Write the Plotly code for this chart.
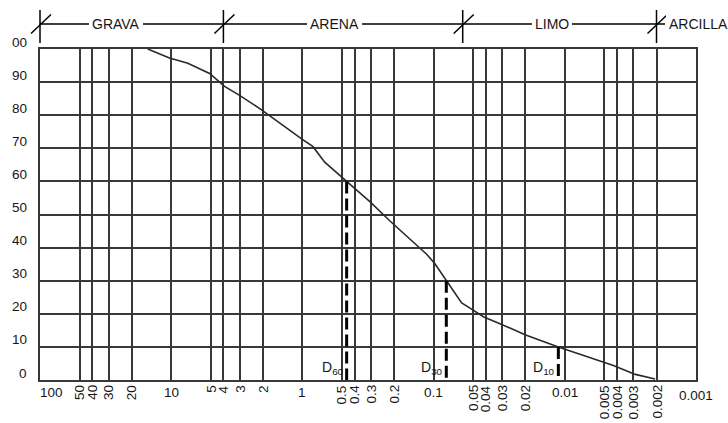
import math
import plotly.graph_objects as go

# Grain-size distribution: particle size (mm) vs. percent passing
size_mm = [15.1, 10.3, 7.47, 5.10, 3.92, 3.01, 2.06, 1.41, 1.02, 0.83, 0.676,
           0.46, 0.306, 0.216, 0.161, 0.113, 0.0977, 0.08, 0.0709, 0.0611,
           0.0499, 0.0418, 0.0312, 0.0201, 0.0112, 0.00679, 0.00426, 0.0029,
           0.00205]
passing = [100, 97.3, 95.7, 92.6, 88.7, 86.0, 81.7, 76.9, 72.9, 70.5, 65.8,
           60, 53.9, 48.1, 43.5, 38.0, 35.1, 30, 26.7, 23.3,
           21.1, 19.1, 17.0, 13.7, 10, 7.1, 4.4, 1.7, 0.3]

# Characteristic diameters D60, D30, D10
d_names = ["60", "30", "10"]
d_sizes = [0.46, 0.08, 0.0112]
d_percent = [60, 30, 10]

# Sieve-size grid and labels (mm)
x_values = [100, 50, 40, 30, 20, 10, 5, 4, 3, 2, 1, 0.5, 0.4, 0.3, 0.2, 0.1,
            0.05, 0.04, 0.03, 0.02, 0.01, 0.005, 0.004, 0.003, 0.002, 0.001]
x_labels = ["100", "50", "40", "30", "20", "10", "5", "4", "3", "2", "1",
            "0.5", "0.4", "0.3", "0.2", "0.1", "0.05", "0.04", "0.03", "0.02",
            "0.01", "0.005", "0.004", "0.003", "0.002", "0.001"]

y_values = [0, 10, 20, 30, 40, 50, 60, 70, 80, 90, 100]
y_labels = ["0", "10", "20", "30", "40", "50", "60", "70", "80", "90", "00"]

# Soil classes and their size limits (mm)
zone_names = ["GRAVA", "ARENA", "LIMO", "ARCILLA"]
zone_limits = [100, 4, 0.06, 0.002]

W, H = 728, 423
ML, MR, MT, MB = 40, 32, 49, 43
PW, PH = W - ML - MR, H - MT - MB
FONT = "Liberation Sans, Arial, sans-serif"
INK = "#161616"
GRID = "#383838"
FS = 13.5


def px_x(px):
    return (px - ML) / PW


def px_y(py):
    return (H - MB - py) / PH


def frac_of(d):
    return (2 - math.log10(d)) / 5


fig = go.Figure()

fig.add_trace(go.Scatter(
    x=size_mm, y=passing, mode="lines",
    line=dict(color="#2a2a2a", width=1.6), hoverinfo="skip",
))

for d, p in zip(d_sizes, d_percent):
    fig.add_trace(go.Scatter(
        x=[d, d], y=[p, 0], mode="lines",
        line=dict(color="black", width=3, dash="12px,5px"), hoverinfo="skip",
    ))

annotations = []
shapes = []

# x tick labels: decades horizontal, intermediate sizes rotated
for v, t in zip(x_values, x_labels):
    decade = abs(math.log10(v) - round(math.log10(v))) < 1e-9
    if decade:
        anchor = "left" if v == x_values[0] else "center"
        annotations.append(dict(
            x=math.log10(v), xref="x", y=0, yref="paper", text=t,
            xanchor=anchor, yanchor="middle", yshift=-12 if v != 0.001 else -15,
            showarrow=False, font=dict(family=FONT, size=FS, color=INK),
            borderpad=0, borderwidth=0,
        ))
    else:
        annotations.append(dict(
            x=math.log10(v), xref="x", y=0, yref="paper", text=t,
            textangle=-90, xanchor="center", yanchor="top", yshift=-5,
            showarrow=False, font=dict(family=FONT, size=FS, color=INK),
            borderpad=0, borderwidth=0,
        ))

# y tick labels, set just above each grid line
for v, t in zip(y_values, y_labels):
    annotations.append(dict(
        x=0, xref="paper", y=v, yref="y", text=t,
        xanchor="right", yanchor="middle", xshift=-13, yshift=7,
        showarrow=False, font=dict(family=FONT, size=FS, color=INK),
        borderpad=0, borderwidth=0,
    ))

# D60 / D30 / D10 labels
for name, d in zip(d_names, d_sizes):
    annotations.append(dict(
        x=math.log10(d), xref="x", y=px_y(368), yref="paper",
        text="D<sub>" + name + "</sub>", xanchor="right", yanchor="middle",
        xshift=-3, showarrow=False,
        font=dict(family=FONT, size=14, color=INK),
        borderpad=0, borderwidth=0,
    ))

# Classification band above the chart
band_y = px_y(24)
shapes.append(dict(type="line", xref="paper", yref="paper",
                   x0=0, x1=px_x(665), y0=band_y, y1=band_y,
                   line=dict(color="black", width=1.5)))
for lim in zone_limits:
    fx = frac_of(lim)
    shapes.append(dict(type="line", xref="paper", yref="paper",
                       x0=fx, x1=fx, y0=px_y(10), y1=px_y(43),
                       line=dict(color="black", width=1.5)))
    shapes.append(dict(type="line", xref="paper", yref="paper",
                       x0=fx - 9 / PW, x1=fx + 11 / PW,
                       y0=px_y(33.5), y1=px_y(14.5),
                       line=dict(color="black", width=1.5)))

band_label_px = [115.8, 334.5, 551.5, 665.5]
for i, (name, lx) in enumerate(zip(zone_names, band_label_px)):
    last = i == len(zone_names) - 1
    annotations.append(dict(
        x=px_x(lx), xref="paper", y=band_y, yref="paper", text=name,
        xanchor="left" if last else "center", yanchor="middle",
        showarrow=False, bgcolor="white", borderpad=3, borderwidth=0,
        font=dict(family=FONT, size=14, color=INK),
    ))

fig.update_layout(
    width=W, height=H,
    margin=dict(l=ML, r=MR, t=MT, b=MB, pad=0),
    paper_bgcolor="white", plot_bgcolor="white",
    showlegend=False,
    annotations=annotations, shapes=shapes,
    xaxis=dict(
        type="log", range=[2, -3], tickvals=x_values, showticklabels=False,
        ticks="", showgrid=True, gridcolor=GRID, gridwidth=2,
        showline=True, mirror=True, linecolor=GRID, linewidth=2,
        zeroline=False,
    ),
    yaxis=dict(
        range=[0, 100], tickvals=y_values, showticklabels=False, ticks="",
        showgrid=True, gridcolor=GRID, gridwidth=2,
        showline=True, mirror=True, linecolor=GRID, linewidth=2,
        zeroline=False,
    ),
)

fig.write_html("out.html")
